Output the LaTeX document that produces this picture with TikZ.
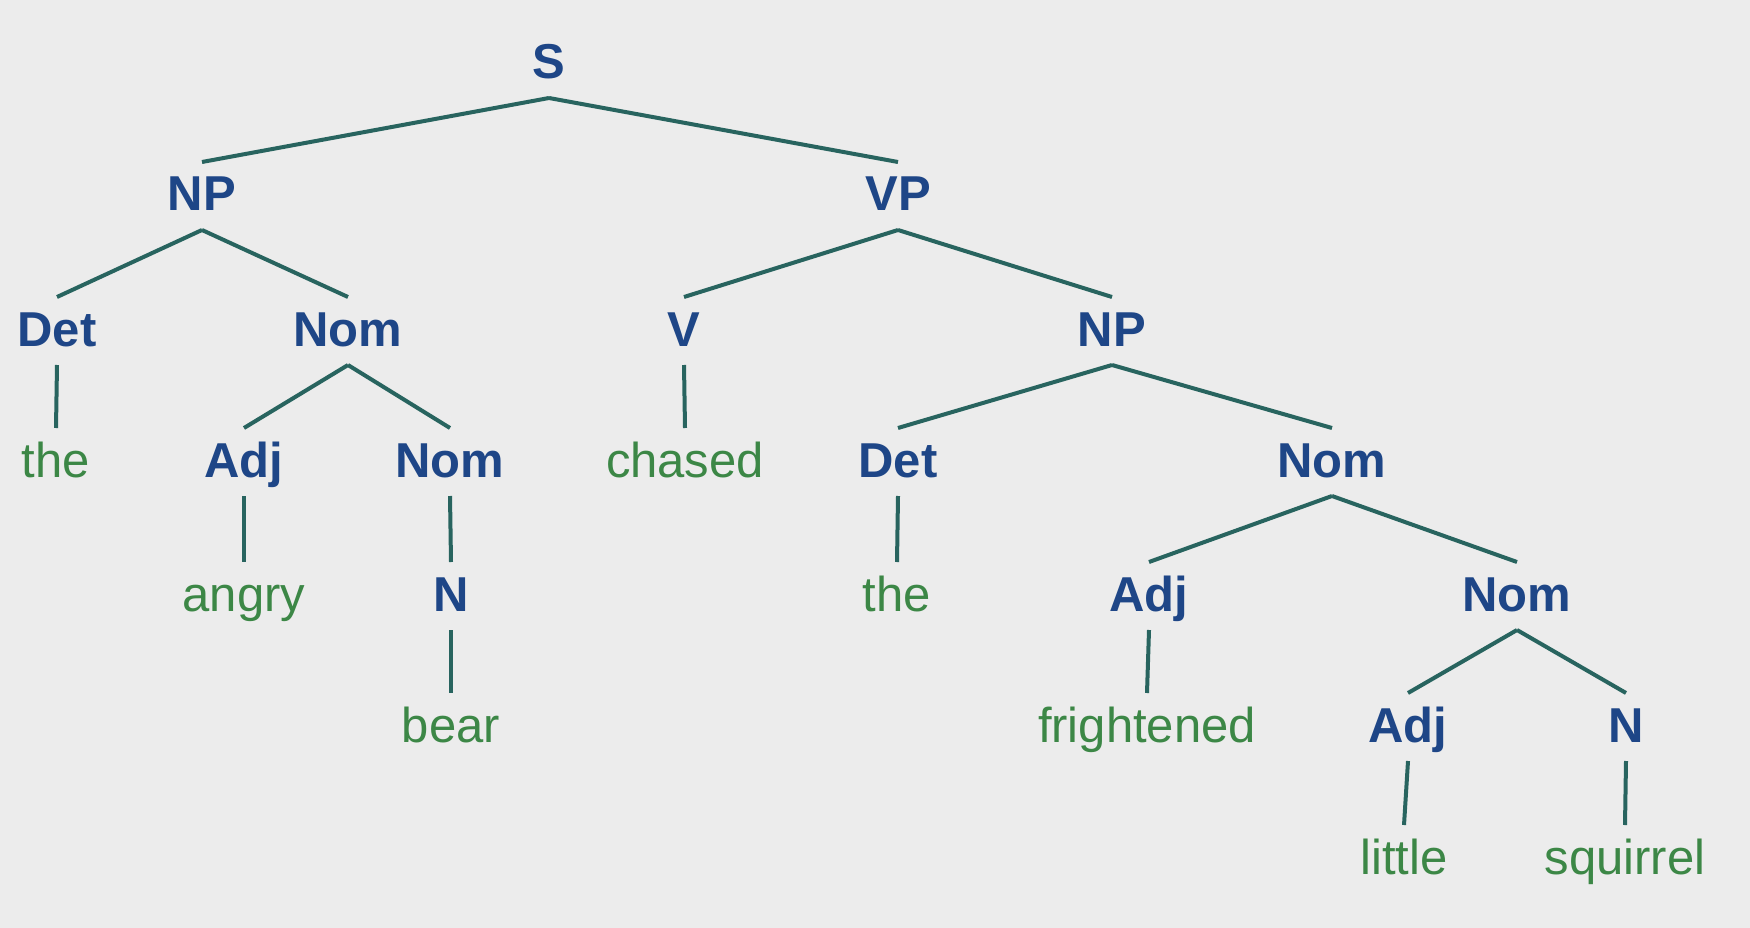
\documentclass[tikz,border=0pt]{standalone}
\usepackage{fontspec}
\setmainfont{Liberation Sans}
\definecolor{bg}{RGB}{236,236,236}
\definecolor{lab}{RGB}{30,70,135}
\definecolor{wrd}{RGB}{60,135,70}
\definecolor{edge}{RGB}{40,100,95}
\tikzset{
  cat/.style={anchor=base,inner sep=0pt,text=lab,font=\fontsize{49}{58}\selectfont\bfseries},
  word/.style={anchor=base,inner sep=0pt,text=wrd,font=\fontsize{49}{58}\selectfont},
  br/.style={draw=edge,line width=4pt}
}
\newcommand{\br}[2]{\draw[br] ([yshift=-19pt]#1.base) -- ([yshift=49pt]#2.base);}
\begin{document}
\begin{tikzpicture}[x=1pt,y=-1pt]
\fill[bg] (0,0) rectangle (1750,928);
\useasboundingbox (0,0) rectangle (1750,928);
% level baselines: center + 18
\node[cat] (S) at (549,79) {S};
\node[cat] (NP) at (202,211) {NP};
\node[cat] (VP) at (898,211) {VP};
\node[cat] (Det1) at (57,346) {Det};
\node[cat] (Nom1) at (348,346) {Nom};
\node[cat] (V) at (684,346) {V};
\node[cat] (NP2) at (1112,346) {NP};
\node[word] (the1) at (56,477) {the};
\node[cat] (Adj1) at (244,477) {Adj};
\node[cat] (Nom2) at (450,477) {Nom};
\node[word] (chased) at (685,477) {chased};
\node[cat] (Det2) at (898,477) {Det};
\node[cat] (Nom3) at (1332,477) {Nom};
\node[word] (angry) at (244,611) {angry};
\node[cat] (N1) at (451,611) {N};
\node[word] (the2) at (897,611) {the};
\node[cat] (Adj2) at (1149,611) {Adj};
\node[cat] (Nom4) at (1517,611) {Nom};
\node[word] (bear) at (451,742) {bear};
\node[word] (fright) at (1147,742) {frightened};
\node[cat] (Adj3) at (1408,742) {Adj};
\node[cat] (N2) at (1626,742) {N};
\node[word] (little) at (1404,874) {little};
\node[word] (squirrel) at (1625,874) {squirrel};
\br{S}{NP}\br{S}{VP}
\br{NP}{Det1}\br{NP}{Nom1}
\br{VP}{V}\br{VP}{NP2}
\br{Det1}{the1}
\br{Nom1}{Adj1}\br{Nom1}{Nom2}
\br{V}{chased}
\br{NP2}{Det2}\br{NP2}{Nom3}
\br{Adj1}{angry}
\br{Nom2}{N1}
\br{Det2}{the2}
\br{Nom3}{Adj2}\br{Nom3}{Nom4}
\br{N1}{bear}
\br{Adj2}{fright}
\br{Nom4}{Adj3}\br{Nom4}{N2}
\br{Adj3}{little}
\br{N2}{squirrel}
\end{tikzpicture}
\end{document}
